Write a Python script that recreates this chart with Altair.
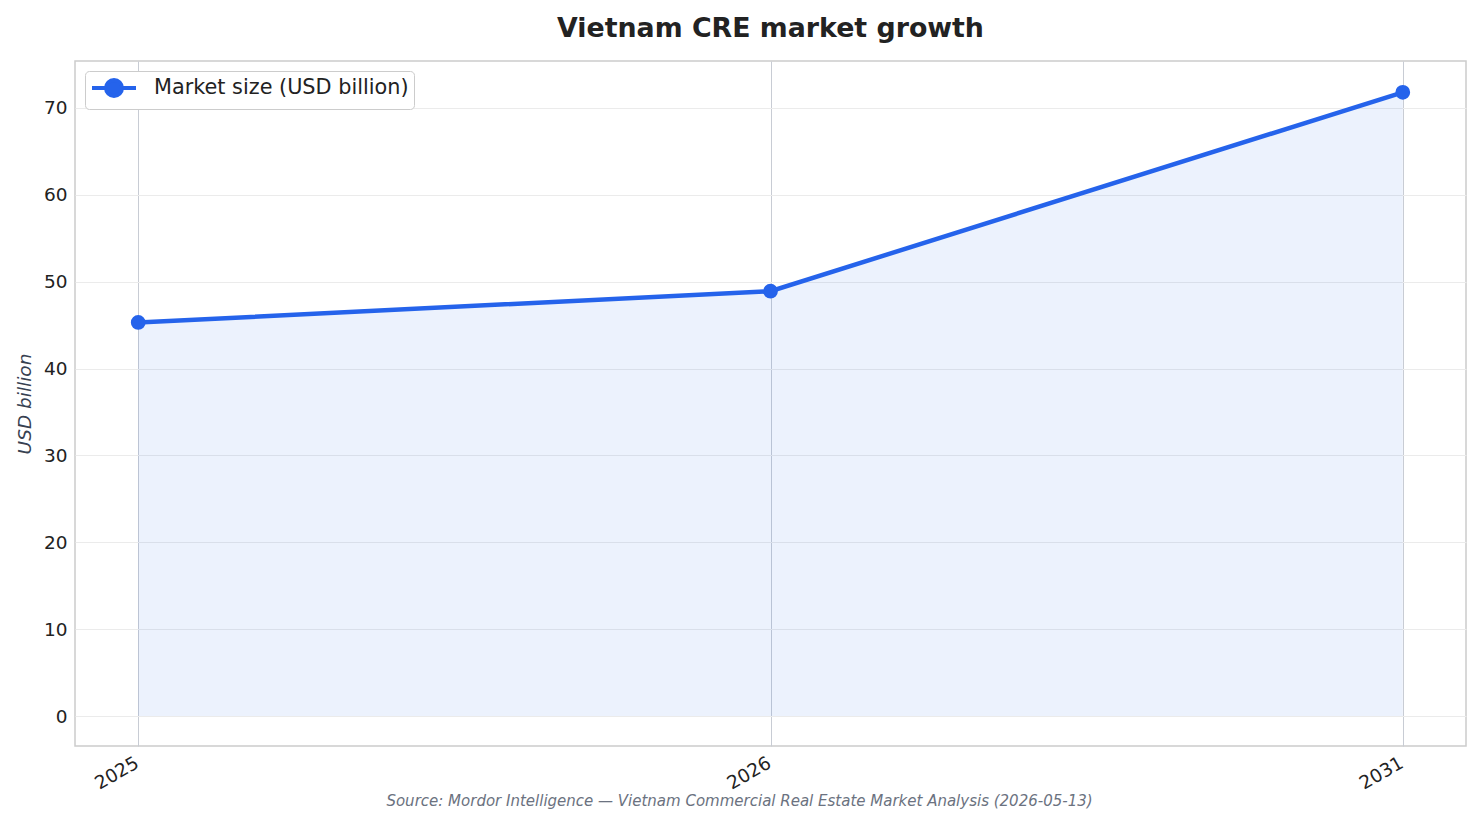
import altair as alt
import pandas as pd

years = ["2025", "2026", "2031"]
market_size = [45.3, 48.9, 71.8]
series_name = "Market size (USD billion)"
y_ticks = [0, 10, 20, 30, 40, 50, 60, 70]
source_note = "Source: Mordor Intelligence \u2014 Vietnam Commercial Real Estate Market Analysis (2026-05-13)"

BLUE = "#2563eb"
FONT = "DejaVu Sans"

df = pd.DataFrame({"year": years, "size": market_size, "series": [series_name] * len(years)})

x_enc = alt.X(
    "year:O",
    sort=years,
    scale=alt.Scale(type="point", padding=0.1),
    axis=alt.Axis(
        title=source_note,
        titleFontStyle="italic",
        titleFontWeight="normal",
        titleFontSize=15,
        titleColor="#6b7280",
        titleX=664,
        titleY=59,
        titleAnchor="middle",
        titleAlign="center",
        titleBaseline="alphabetic",
        labelAngle=330,
        labelAlign="right",
        labelBaseline="top",
        labelFontSize=18.5,
        labelColor="#222222",
        labelPadding=7,
        labelOffset=-6,
        ticks=False,
        domain=False,
        grid=True,
        gridColor="#c8ccd4",
        gridWidth=1,
    ),
)
y_enc = alt.Y(
    "size:Q",
    scale=alt.Scale(domain=[-3.45, 75.4], nice=False, zero=False),
    axis=alt.Axis(
        values=y_ticks,
        title="USD billion",
        titleFontStyle="italic",
        titleFontWeight="normal",
        titleFontSize=18.5,
        titleColor="#374151",
        titlePadding=9,
        labelFontSize=18.5,
        labelColor="#222222",
        labelPadding=8,
        ticks=False,
        domain=False,
        grid=True,
        gridColor="#ebebeb",
        gridWidth=1,
    ),
)

base = alt.Chart(df)

area = base.mark_area(color=BLUE, opacity=0.085).encode(x=x_enc, y=y_enc, y2=alt.datum(0))

line = base.mark_line(strokeWidth=4.5).encode(
    x=x_enc,
    y=y_enc,
    color=alt.Color(
        "series:N",
        scale=alt.Scale(range=[BLUE]),
        legend=alt.Legend(
            title=None,
            orient="top-left",
            offset=10,
            padding=5,
            fillColor="white",
            strokeColor="#cccccc",
            cornerRadius=4,
            labelFont=FONT,
            labelFontSize=20.8,
            labelColor="#222222",
            labelLimit=400,
            labelOffset=40,
            symbolType="M-1,0L3.4,0M0.4,0A0.8,0.8,0,1,1,2,0A0.8,0.8,0,1,1,0.4,0Z",
            symbolSize=400,
            symbolStrokeWidth=4,
            symbolFillColor=BLUE,
            symbolStrokeColor=BLUE,
        ),
    ),
)

points = base.mark_circle(color=BLUE, size=218, opacity=1).encode(x=x_enc, y=y_enc)

chart = (
    alt.layer(area, line, points)
    .properties(
        width=1391,
        height=685,
        autosize=alt.AutoSizeParams(type="none"),
        padding={"left": 67, "top": 53, "right": 5, "bottom": 70},
        title=alt.TitleParams(
            "Vietnam CRE market growth",
            font=FONT,
            fontSize=26.8,
            fontWeight="bold",
            color="#222222",
            anchor="middle",
            frame="group",
            offset=18,
        ),
    )
    .configure(font=FONT)
    .configure_view(stroke="#cccccc", strokeWidth=1.5)
    .configure_axis(labelFont=FONT, titleFont=FONT)
)

chart.save("out.html", embed_options={"renderer": "svg", "actions": False})
